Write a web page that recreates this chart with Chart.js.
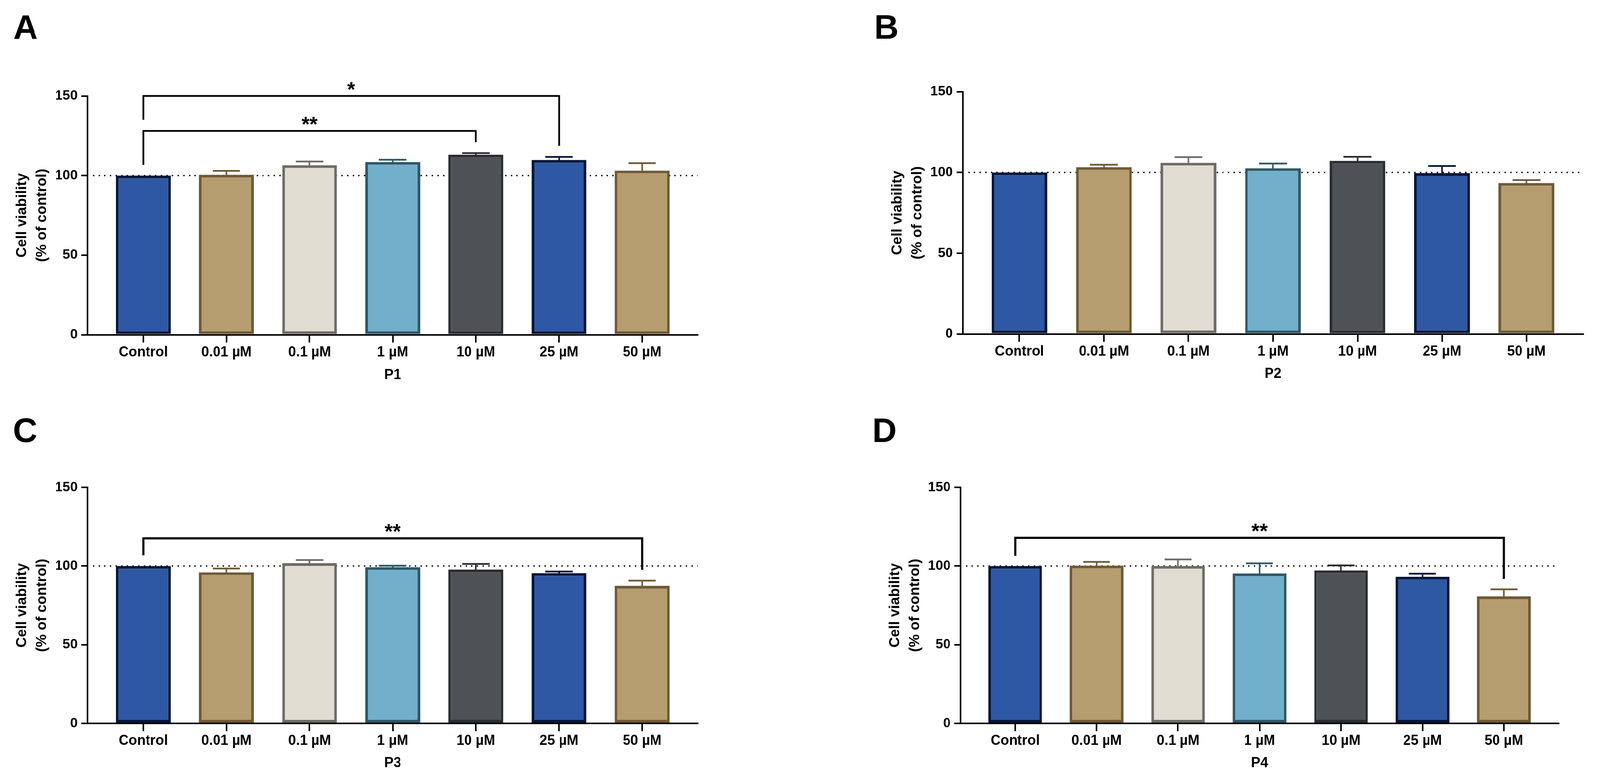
<!DOCTYPE html>
<html>
<head>
<meta charset="utf-8">
<script src="https://cdn.jsdelivr.net/npm/chart.js@4.4.1/dist/chart.umd.min.js"></script>
<style>
html,body{margin:0;padding:0;background:#fff;overflow:hidden;}
#wrap{position:absolute;left:0;top:0;width:4166px;height:2001px;overflow:hidden;background:#fff;transform-origin:0 0;}
canvas{position:absolute;display:block;}
</style>
</head>
<body>
<div id="wrap">
<canvas id="cA" width="2083" height="1000" style="left:0px;top:0px;width:2083px;height:1000px"></canvas>
<canvas id="cB" width="2083" height="1000" style="left:2083px;top:0px;width:2083px;height:1000px"></canvas>
<canvas id="cC" width="2083" height="1001" style="left:0px;top:1000px;width:2083px;height:1001px"></canvas>
<canvas id="cD" width="2083" height="1001" style="left:2083px;top:1000px;width:2083px;height:1001px"></canvas>
</div>
<script>
// fit the 4166x2001 figure into the actual viewport
(function () {
  const sx = Math.min(1, window.innerWidth / 4166);
  const sy = Math.min(1, window.innerHeight / 2001);
  document.getElementById('wrap').style.transform = 'scale(' + sx + ',' + sy + ')';
})();

// ---------------- data ----------------
const categories = ['Control', '0.01 \u00B5M', '0.1 \u00B5M', '1 \u00B5M', '10 \u00B5M', '25 \u00B5M', '50 \u00B5M'];
const yTickValues = [0, 50, 100, 150];
const referenceLevel = 100;

const p1Mean = [100, 100.5, 106.5, 108.5, 113.1, 109.8, 103.1];
const p1Sem  = [0, 2.4, 2.3, 1.4, 1.0, 1.9, 4.7];
const p2Mean = [100, 103.3, 106.0, 102.6, 107.2, 99.6, 93.5];
const p2Sem  = [0, 1.5, 3.5, 2.9, 2.5, 4.4, 1.8];
const p3Mean = [100, 96.0, 101.8, 99.3, 97.8, 95.5, 87.4];
const p3Sem  = [0, 2.4, 2.0, 0.9, 3.5, 1.0, 3.3];
const p4Mean = [100, 100.3, 100.0, 95.3, 97.2, 93.2, 80.7];
const p4Sem  = [0, 2.3, 4.2, 6.4, 3.2, 1.9, 4.5];

// significance brackets (category indices, heights in % of control)
const p1Sig = [
  {from: 0, to: 5, y: 150, yFrom: 135, yTo: 118.7, label: '*'},
  {from: 0, to: 4, y: 128, yFrom: 106.7, yTo: 121, label: '**'}
];
const p2Sig = [];
const p3Sig = [{from: 0, to: 6, y: 117.6, yFrom: 106.8, yTo: 97.6, label: '**'}];
const p4Sig = [{from: 0, to: 6, y: 117.9, yFrom: 106.5, yTo: 91.8, label: '**'}];

// ---------------- styles ----------------
const fills   = ['#2e58a3', '#b59d70', '#e2ddd2', '#71afca', '#4e5156', '#2e58a3', '#b59d70'];
const borders = ['#06163a', '#705a36', '#6e6c68', '#2f5866', '#2b2d30', '#06163a', '#705a36'];
const FONT = '"Liberation Sans", Arial, Helvetica, sans-serif';
Chart.defaults.font.family = FONT;
Chart.defaults.color = '#000';

const Y_SCALE_W = 228;

function makePanel(canvasId, mean, sem, sig, L) {
  const refLine = {
    id: 'refLine',
    beforeDatasetsDraw(chart) {
      const {ctx, chartArea, scales} = chart;
      const y = scales.y.getPixelForValue(referenceLevel);
      ctx.save();
      ctx.strokeStyle = '#000';
      ctx.lineWidth = 3.5;
      ctx.setLineDash([3.5, 11.2]);
      ctx.beginPath();
      ctx.moveTo(chartArea.left + 14, y);
      ctx.lineTo(chartArea.right, y);
      ctx.stroke();
      ctx.restore();
    }
  };
  const errorBars = {
    id: 'errorBars',
    afterDatasetsDraw(chart) {
      const {ctx, scales} = chart;
      const meta = chart.getDatasetMeta(0);
      ctx.save();
      meta.data.forEach((bar, i) => {
        if (!sem[i]) return;
        const yTop = scales.y.getPixelForValue(mean[i] + sem[i]);
        const capW = bar.width * 0.5;
        ctx.strokeStyle = borders[i];
        ctx.lineCap = 'butt';
        ctx.lineWidth = 4;
        ctx.beginPath();
        ctx.moveTo(bar.x, bar.y + 3);
        ctx.lineTo(bar.x, yTop);
        ctx.stroke();
        ctx.lineWidth = 4.5;
        ctx.beginPath();
        ctx.moveTo(bar.x - capW / 2, yTop);
        ctx.lineTo(bar.x + capW / 2, yTop);
        ctx.stroke();
      });
      ctx.restore();
    }
  };
  const annotations = {
    id: 'annotations',
    afterDraw(chart) {
      const {ctx, scales} = chart;
      ctx.save();
      sig.forEach(s => {
        const xa = scales.x.getPixelForValue(s.from);
        const xb = scales.x.getPixelForValue(s.to);
        const y = scales.y.getPixelForValue(s.y);
        ctx.strokeStyle = '#000';
        ctx.lineWidth = L.bracketW;
        ctx.lineJoin = 'miter';
        ctx.lineCap = 'butt';
        ctx.beginPath();
        ctx.moveTo(xa, scales.y.getPixelForValue(s.yFrom));
        ctx.lineTo(xa, y);
        ctx.lineTo(xb, y);
        ctx.lineTo(xb, scales.y.getPixelForValue(s.yTo));
        ctx.stroke();
        ctx.fillStyle = '#000';
        ctx.font = 'bold 54px ' + FONT;
        ctx.textAlign = 'center';
        ctx.textBaseline = 'alphabetic';
        ctx.fillText(s.label, (xa + xb) / 2, y + 1);
      });
      ctx.fillStyle = '#000';
      ctx.font = 'bold 88px ' + FONT;
      ctx.textAlign = 'left';
      ctx.textBaseline = 'alphabetic';
      ctx.fillText(L.letter, L.letterX, L.letterY);
      ctx.restore();
    }
  };

  return new Chart(document.getElementById(canvasId), {
    type: 'bar',
    data: {
      datasets: [{
        data: mean.map((v, i) => ({x: i, y: v})),
        backgroundColor: fills,
        borderColor: borders,
        borderWidth: 7,
        borderSkipped: false,
        categoryPercentage: 1,
        barPercentage: 0.66
      }]
    },
    options: {
      responsive: false,
      animation: false,
      devicePixelRatio: 1,
      events: [],
      layout: {padding: {left: L.left - Y_SCALE_W, right: L.w - L.right, top: L.top, bottom: 0}},
      plugins: {legend: {display: false}, tooltip: {enabled: false}},
      scales: {
        x: {
          type: 'linear',
          offset: false,
          min: -0.67,
          max: 6.67,
          afterBuildTicks: s => { s.ticks = categories.map((c, i) => ({value: i})); },
          afterFit: s => { s.height = L.h - L.bottom; },
          ticks: {
            callback: v => categories[Math.round(v)],
            font: {size: 36, weight: 'bold'},
            color: '#000',
            padding: L.tickPad,
            maxRotation: 0,
            minRotation: 0,
            autoSkip: false
          },
          grid: {offset: false, drawOnChartArea: false, drawTicks: true, tickLength: 20, color: '#000', lineWidth: 4},
          border: {display: true, color: '#000', width: 4},
          title: {display: true, text: L.xTitle, font: {size: 36, weight: 'bold'}, color: '#000', padding: {top: 0, bottom: L.titlePad}}
        },
        y: {
          type: 'linear',
          min: 0,
          max: 150,
          afterBuildTicks: s => { s.ticks = yTickValues.map(v => ({value: v})); },
          afterFit: s => { s.width = Y_SCALE_W; },
          ticks: {font: {size: 35, weight: 'bold'}, color: '#000', padding: 10},
          grid: {drawOnChartArea: false, drawTicks: true, tickLength: 16, color: '#000', lineWidth: 4},
          border: {display: true, color: '#000', width: 4},
          title: {
            display: true,
            text: ['Cell viability', '(% of control)'],
            font: {size: 37, weight: 'bold', lineHeight: 52 / 37},
            color: '#000',
            padding: {top: 32, bottom: 0}
          }
        }
      }
    },
    plugins: [refLine, errorBars, annotations]
  });
}

makePanel('cA', p1Mean, p1Sem, p1Sig, {w: 2083, h: 1000, left: 228, right: 1817, top: 245.5, bottom: 856.5, tickPad: 4, titlePad: 18, xTitle: 'P1', letter: 'A', letterX: 35, letterY: 99, bracketW: 4.5});
makePanel('cB', p2Mean, p2Sem, p2Sig, {w: 2083, h: 1000, left: 424, right: 2039, top: 234.7, bottom: 854.6, tickPad: 4, titlePad: 21, xTitle: 'P2', letter: 'B', letterX: 193, letterY: 99, bracketW: 4.5});
makePanel('cC', p3Mean, p3Sem, p3Sig, {w: 2083, h: 1001, left: 228, right: 1817, top: 247, bottom: 851, tickPad: 3.5, titlePad: 26, xTitle: 'P3', letter: 'C', letterX: 34, letterY: 131, bracketW: 5.5});
makePanel('cD', p4Mean, p4Sem, p4Sig, {w: 2083, h: 1001, left: 418, right: 1975, top: 247, bottom: 851, tickPad: 3.5, titlePad: 26, xTitle: 'P4', letter: 'D', letterX: 188, letterY: 131, bracketW: 5.5});
</script>
</body>
</html>
